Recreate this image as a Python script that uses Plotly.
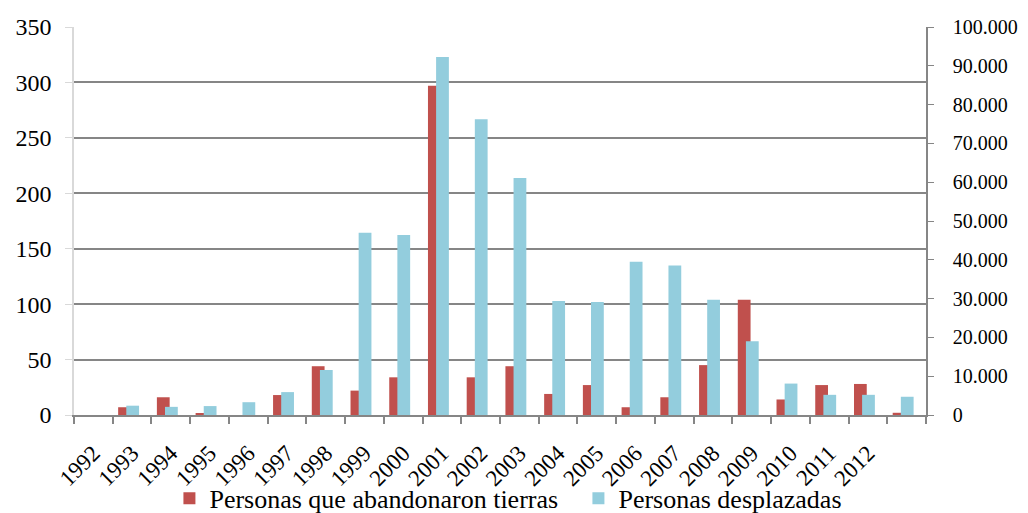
import plotly.graph_objects as go

years = ["1992", "1993", "1994", "1995", "1996", "1997", "1998", "1999", "2000",
         "2001", "2002", "2003", "2004", "2005", "2006", "2007", "2008", "2009",
         "2010", "2011", "2012", " "]
abandonaron = [0, 7, 16, 1, 0, 18, 44, 22, 34, 297, 34, 44, 19, 27, 7, 16, 45, 104,
               14, 27, 28, 2]
desplazadas = [0, 2400, 2100, 2300, 3300, 5900, 11600, 47000, 46400, 92300, 76200,
               61100, 29400, 29100, 39500, 38500, 29700, 19000, 8100, 5200, 5200, 4700]

RED = "#C0504D"
BLUE = "#93CDDD"
FONT = "Liberation Serif"

fig = go.Figure()
fig.add_trace(go.Bar(
    x=years, y=abandonaron, name="Personas que abandonaron tierras",
    marker=dict(color=RED, line=dict(width=0)),
    width=0.33, offset=-0.36, yaxis="y",
))
fig.add_trace(go.Bar(
    x=years, y=desplazadas, name="Personas desplazadas",
    marker=dict(color=BLUE, line=dict(width=0)),
    width=0.33, offset=-0.15, yaxis="y2",
))

# page body has an 8px margin, so the figure is 1020x505 placed at (8, 8)
fig.update_layout(
    width=1020, height=505,
    margin=dict(l=66, r=102, t=19, b=98, autoexpand=False),
    paper_bgcolor="white", plot_bgcolor="white",
    separators=",.",
    font=dict(family=FONT, size=22, color="black"),
    barmode="overlay",
    showlegend=True,
    legend=dict(orientation="h", x=0.112, xanchor="left", y=-0.215, yanchor="middle",
                font=dict(family=FONT, size=26), itemwidth=30, entrywidth=364,
                traceorder="normal", bgcolor="rgba(0,0,0,0)"),
    xaxis=dict(
        type="category", tickson="boundaries", ticks="outside", ticklen=7,
        tickcolor="#868686", tickwidth=1.5, showline=True, linecolor="#868686",
        linewidth=1.5, showgrid=False, tickangle=-45, automargin=False,
        tickfont=dict(family=FONT, size=23), ticklabelstandoff=14,
    ),
    yaxis=dict(
        range=[0, 350], dtick=50, showgrid=True, gridcolor="#868686", gridwidth=1.5,
        zeroline=False, showline=True, linecolor="#D9D9D9", linewidth=1.5,
        ticks="outside", ticklen=7, tickcolor="#D9D9D9", automargin=False,
        tickfont=dict(family=FONT, size=24), ticklabelstandoff=9,
    ),
    yaxis2=dict(
        overlaying="y", side="right", range=[0, 100000], dtick=10000,
        tickformat=",", tickprefix="\u00a0\u00a0\u00a0",
        showgrid=False, zeroline=False, showline=True,
        linecolor="#868686", linewidth=1.5, ticks="outside", ticklen=6,
        tickcolor="#868686", tickfont=dict(family=FONT, size=20),
        automargin=False,
    ),
)

fig.write_html("out.html")
